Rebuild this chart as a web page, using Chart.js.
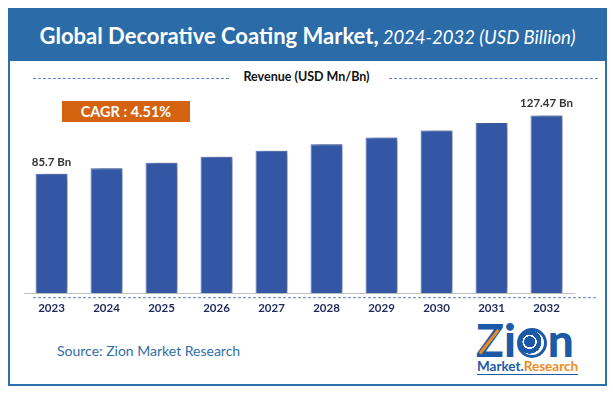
<!DOCTYPE html>
<html>
<head>
<meta charset="utf-8">
<script src="https://cdn.jsdelivr.net/npm/chart.js@4"></script>
<style>
  html, body { margin: 0; padding: 0; background: #fff; }
  #wrap { position: relative; width: 613px; height: 396px; overflow: hidden; font-family: Lato, "Open Sans", sans-serif; }
  #frame { position: absolute; left: 8px; top: 8px; width: 595px; height: 376px; border: 2px solid #2e6fae; border-top: none; }
  #header { position: absolute; left: 8px; top: 8px; width: 599px; height: 53px; background: #2b6ba8; color: #fff; text-align: center; line-height: 55px; white-space: nowrap; }
  #header b { font-size: 22px; font-weight: 700; }
  #header i { font-size: 18.5px; font-weight: 400; }
  #rev { position: absolute; left: 0; width: 613px; top: 69px; text-align: center; font-size: 12.5px; font-weight: 700; color: #111; }
  .dash { position: absolute; top: 78px; border-top: 1px dashed #5a86c8; height: 0; }
  #cagr { position: absolute; left: 62px; top: 101px; width: 128px; height: 21px; background: #d4620f; color: #fff; font-weight: 700; font-size: 14.5px; text-align: center; line-height: 22px; }
  #source { position: absolute; left: 57px; top: 342px; font-size: 14px; color: #2f6ea6; }
  #logo { position: absolute; left: 476px; top: 318px; width: 106px; height: 60px; }
  #zion { position: absolute; left: 0; top: 0; font-size: 46px; font-weight: 900; color: #1c5aa8; line-height: 44px; white-space: nowrap; }
  #globe { display: inline-block; width: 30px; height: 30px; border: 3px solid #1c5aa8; border-radius: 50%; box-sizing: border-box; vertical-align: -1px; margin: 0 1px;
           background: radial-gradient(circle at 40% 45%, #1c5aa8 0 28%, #fff 29% 36%, #1c5aa8 37% 60%, #fff 61%); }
  #arrow { position: absolute; left: 4px; width: 30px; height: 3px; background: #ef8a1e; transform: rotate(-52deg); transform-origin: left center; top: 34px; }
  #mr { position: absolute; left: 1px; top: 41px; font-size: 13.5px; font-weight: 700; line-height: 15px; border-bottom: 1px solid #1c5aa8; white-space: nowrap; }
  canvas { position: absolute; left: 0; top: 0; }
</style>
</head>
<body>
<div id="wrap">
  <div id="frame"></div>
  <div id="header"><b>Global Decorative Coating Market,</b> <i>2024-2032 (USD Billion)</i></div>
  <div class="dash" style="left:33px;width:196px"></div>
  <div class="dash" style="left:389px;width:209px"></div>
  <div id="rev">Revenue (USD Mn/Bn)</div>
  <div id="cagr">CAGR : 4.51%</div>
  <div id="source">Source: Zion Market Research</div>
  <div id="logo">
    <div id="zion">Zi<span id="globe"></span>n</div>
    <div id="arrow"></div>
    <div id="mr"><span style="color:#1c5aa8">Market.</span><span style="color:#ef8a1e">Research</span></div>
  </div>
  <canvas id="chart" width="613" height="396"></canvas>
</div>
<script>
const years = ["2023", "2024", "2025", "2026", "2027", "2028", "2029", "2030", "2031", "2032"];
const revenue = [85.7, 89.6, 93.6, 97.8, 102.2, 106.8, 111.6, 116.7, 122.0, 127.47];
const valueLabels = ["85.7 Bn", "", "", "", "", "", "", "", "", "127.47 Bn"];

const barShadow = {
    id: "barShadow",
    beforeDatasetsDraw(chart) {
        const ctx = chart.ctx;
        ctx.save();
        ctx.shadowColor = "rgba(0,0,0,0.5)";
        ctx.shadowBlur = 7;
        ctx.shadowOffsetX = 5;
        ctx.shadowOffsetY = 0;
    },
    afterDatasetsDraw(chart) {
        chart.ctx.restore();
    }
};

const extras = {
    id: "extras",
    afterDraw(chart) {
        const ctx = chart.ctx;
        const area = chart.chartArea;
        // dashed line under the axis
        ctx.save();
        ctx.strokeStyle = "#5a86c8";
        ctx.lineWidth = 1;
        ctx.setLineDash([3, 2]);
        ctx.beginPath();
        ctx.moveTo(33, area.bottom + 4.5);
        ctx.lineTo(598, area.bottom + 4.5);
        ctx.stroke();
        ctx.restore();
        // value labels on first and last bar
        const meta = chart.getDatasetMeta(0);
        ctx.save();
        ctx.font = "bold 11.5px Lato, sans-serif";
        ctx.fillStyle = "#333";
        ctx.textAlign = "center";
        ctx.textBaseline = "bottom";
        meta.data.forEach((bar, i) => {
            if (valueLabels[i]) ctx.fillText(valueLabels[i], bar.x, bar.y - 6);
        });
        ctx.restore();
    }
};

new Chart(document.getElementById("chart").getContext("2d"), {
    type: "bar",
    data: {
        labels: years,
        datasets: [{
            data: revenue,
            backgroundColor: "#3357a5",
            borderColor: "#4b6fba",
            borderWidth: 1,
            barPercentage: 0.58,
            categoryPercentage: 1
        }]
    },
    options: {
        responsive: false,
        animation: false,
        layout: { padding: { left: 24, right: 39, top: 98, bottom: 81 } },
        plugins: { legend: { display: false }, tooltip: { enabled: false } },
        scales: {
            x: {
                grid: { display: false },
                border: { display: true, color: "#bfbfbf", width: 1 },
                ticks: { color: "#1f2a5a", font: { family: "Lato", weight: "bold", size: 11.5 }, padding: 0 }
            },
            y: { display: false, min: 0, max: 140 }
        }
    },
    plugins: [barShadow, extras]
});
</script>
</body>
</html>
